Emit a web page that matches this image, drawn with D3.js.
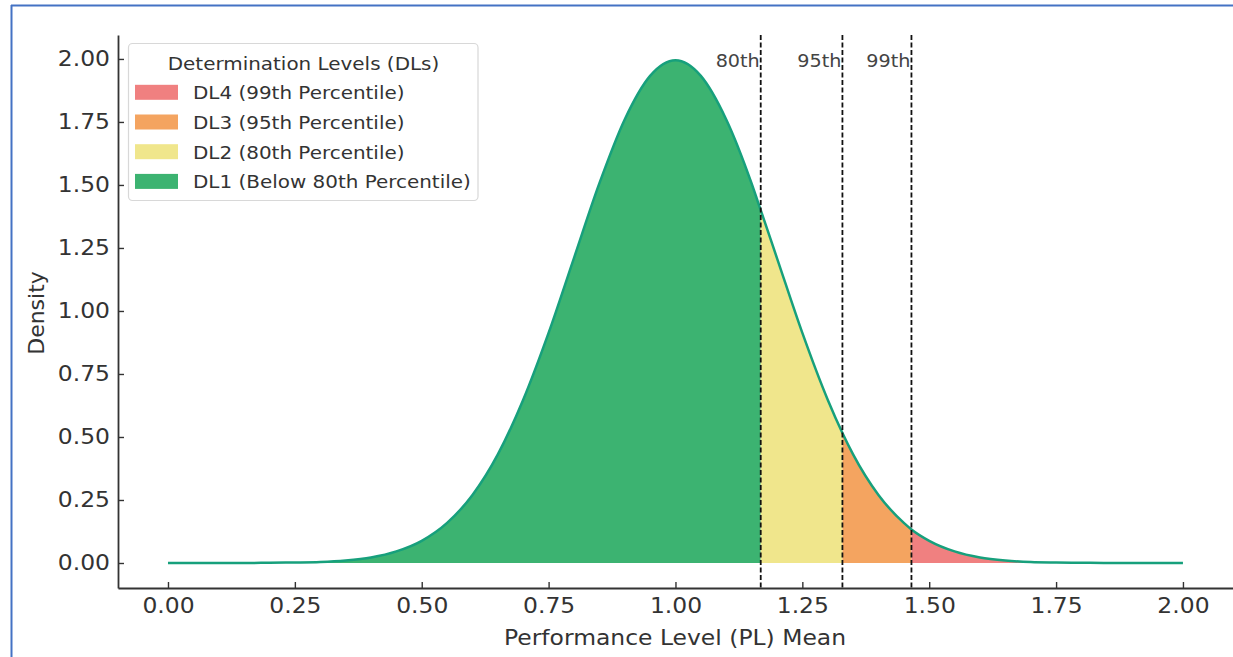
<!DOCTYPE html>
<html>
<head>
<meta charset="utf-8">
<script src="https://cdn.jsdelivr.net/npm/d3@7/dist/d3.min.js"></script>
<style>
  html, body { margin: 0; padding: 0; background: #fff; }
  svg { display: block; font-family: "DejaVu Sans", sans-serif; }
</style>
</head>
<body>
<svg id="chart" width="1233" height="657"></svg>
<script>
// ---- data ----
const performanceLevel = [0.00,0.05,0.10,0.15,0.20,0.25,0.30,0.35,0.40,0.45,0.50,0.55,0.60,0.65,0.70,0.75,0.80,0.85,0.90,0.95,
  1.00,1.05,1.10,1.15,1.20,1.25,1.30,1.35,1.40,1.45,1.50,1.55,1.60,1.65,1.70,1.75,1.80,1.85,1.90,1.95,2.00];
const densityValues = [0.000,0.000,0.000,0.000,0.001,0.002,0.004,0.010,0.022,0.046,0.088,0.159,0.270,0.431,0.648,0.913,1.210,1.506,1.760,1.933,
  1.995,1.933,1.760,1.506,1.210,0.913,0.648,0.431,0.270,0.159,0.088,0.046,0.022,0.010,0.004,0.002,0.001,0.000,0.000,0.000,0.000];
const percentileLabels = ["80th","95th","99th"];
const percentileValues = [1.168,1.329,1.465];
const percentileDensity = [1.400,0.516,0.133];
const legendLabels = ["DL4 (99th Percentile)","DL3 (95th Percentile)","DL2 (80th Percentile)","DL1 (Below 80th Percentile)"];
const legendColors = ["#f08080","#f4a460","#f0e68c","#3cb371"];
const xTicks = [0,0.25,0.5,0.75,1,1.25,1.5,1.75,2];
const yTicks = [0,0.25,0.5,0.75,1,1.25,1.5,1.75,2];

// ---- setup ----
const svg = d3.select("#chart");
const x = d3.scaleLinear().domain([-0.0985, 2.1]).range([118, 1233.7]);
const y = d3.scaleLinear().domain([-0.0992, 2.095]).range([588, 35]);

// frame of the screenshot
svg.append("line").attr("x1",11).attr("x2",1233).attr("y1",5.5).attr("y2",5.5)
  .attr("stroke","#4472c4").attr("stroke-width",2);
svg.append("line").attr("x1",11.5).attr("x2",11.5).attr("y1",5).attr("y2",657)
  .attr("stroke","#4472c4").attr("stroke-width",2);

// merged points
const pts = performanceLevel.map((v,i)=>({x:v, y:densityValues[i]}))
  .concat(percentileValues.map((v,i)=>({x:v, y:percentileDensity[i]})))
  .sort((a,b)=>a.x-b.x);

const area = d3.area().x(d=>x(d.x)).y0(y(0)).y1(d=>y(d.y)).curve(d3.curveMonotoneX);
const line = d3.line().x(d=>x(d.x)).y(d=>y(d.y)).curve(d3.curveMonotoneX);

// regions
const bounds = [0].concat(percentileValues).concat([2]);
const regionColors = ["#3cb371","#f0e68c","#f4a460","#f08080"];
const defs = svg.append("defs");
bounds.slice(0,-1).forEach((lo,i)=>{
  const hi = bounds[i+1];
  defs.append("clipPath").attr("id","clip"+i)
    .append("rect").attr("x",x(lo)).attr("y",0).attr("width",x(hi)-x(lo)).attr("height",657);
  svg.append("path").datum(pts).attr("d",area)
    .attr("fill",regionColors[i]).attr("clip-path",`url(#clip${i})`);
});

svg.append("path").datum(pts).attr("d",line)
  .attr("fill","none").attr("stroke","#17a07c").attr("stroke-width",2.5);

// percentile lines
percentileValues.forEach((v,i)=>{
  svg.append("line").attr("x1",x(v)).attr("x2",x(v)).attr("y1",y(2.095)).attr("y2",y(-0.0992))
    .attr("stroke","#111").attr("stroke-width",1.8).attr("stroke-dasharray","5,2.5");
  svg.append("text").attr("class","st").attr("x",x(v)-1).attr("y",67)
    .attr("text-anchor","end").attr("font-size",17.6).attr("fill","#444").text(percentileLabels[i]);
});

// axes
const axisColor = "#333";
const xAxis = svg.append("g").attr("transform",`translate(0,${y(-0.0992)})`)
  .call(d3.axisBottom(x).tickValues(xTicks).tickFormat(d3.format(".2f")).tickSizeInner(-6).tickSizeOuter(0).tickPadding(9));
const yAxis = svg.append("g").attr("transform",`translate(${x(-0.0985)},0)`)
  .call(d3.axisLeft(y).tickValues(yTicks).tickFormat(d3.format(".2f")).tickSizeInner(-6).tickSizeOuter(0).tickPadding(8));
[xAxis,yAxis].forEach(g=>{
  g.select(".domain").attr("stroke",axisColor).attr("stroke-width",1.8);
  g.selectAll(".tick line").attr("stroke",axisColor).attr("stroke-width",1.4);
  g.selectAll(".tick text").attr("class","st").attr("fill","#333").attr("font-size",21.5).attr("font-family","DejaVu Sans");
});
xAxis.selectAll(".tick text").attr("dy",null).attr("y",null).attr("transform","translate(0,25)");

svg.append("text").attr("class","st").attr("x",675).attr("y",645).attr("text-anchor","middle")
  .attr("font-size",21.5).attr("fill","#333").text("Performance Level (PL) Mean");
svg.append("text").attr("transform","translate(44,313) rotate(-90)").attr("text-anchor","middle")
  .attr("font-size",22).attr("fill","#333").text("Density");

// legend
const lg = svg.append("g");
lg.append("rect").attr("x",128.5).attr("y",43.5).attr("width",349.5).attr("height",157).attr("rx",4)
  .attr("fill","#fff").attr("fill-opacity",0.85).attr("stroke","#d8d8d8").attr("stroke-width",1.2);
lg.append("text").attr("class","st").attr("x",303.5).attr("y",70).attr("text-anchor","middle")
  .attr("font-size",18.3).attr("fill","#333").text("Determination Levels (DLs)");
legendLabels.forEach((lab,i)=>{
  const base = 99.3 + i*29.7;
  lg.append("rect").attr("x",135).attr("y",base-14.5).attr("width",43).attr("height",15).attr("fill",legendColors[i]);
  lg.append("text").attr("class","st").attr("x",193).attr("y",base).attr("font-size",18.3).attr("fill","#333").text(lab);
});

// the reference picture is slightly stretched horizontally: widen text to match
svg.selectAll("text.st").each(function(){
  const len = this.getComputedTextLength();
  d3.select(this).attr("textLength", len*1.09).attr("lengthAdjust","spacingAndGlyphs");
});
</script>
</body>
</html>
